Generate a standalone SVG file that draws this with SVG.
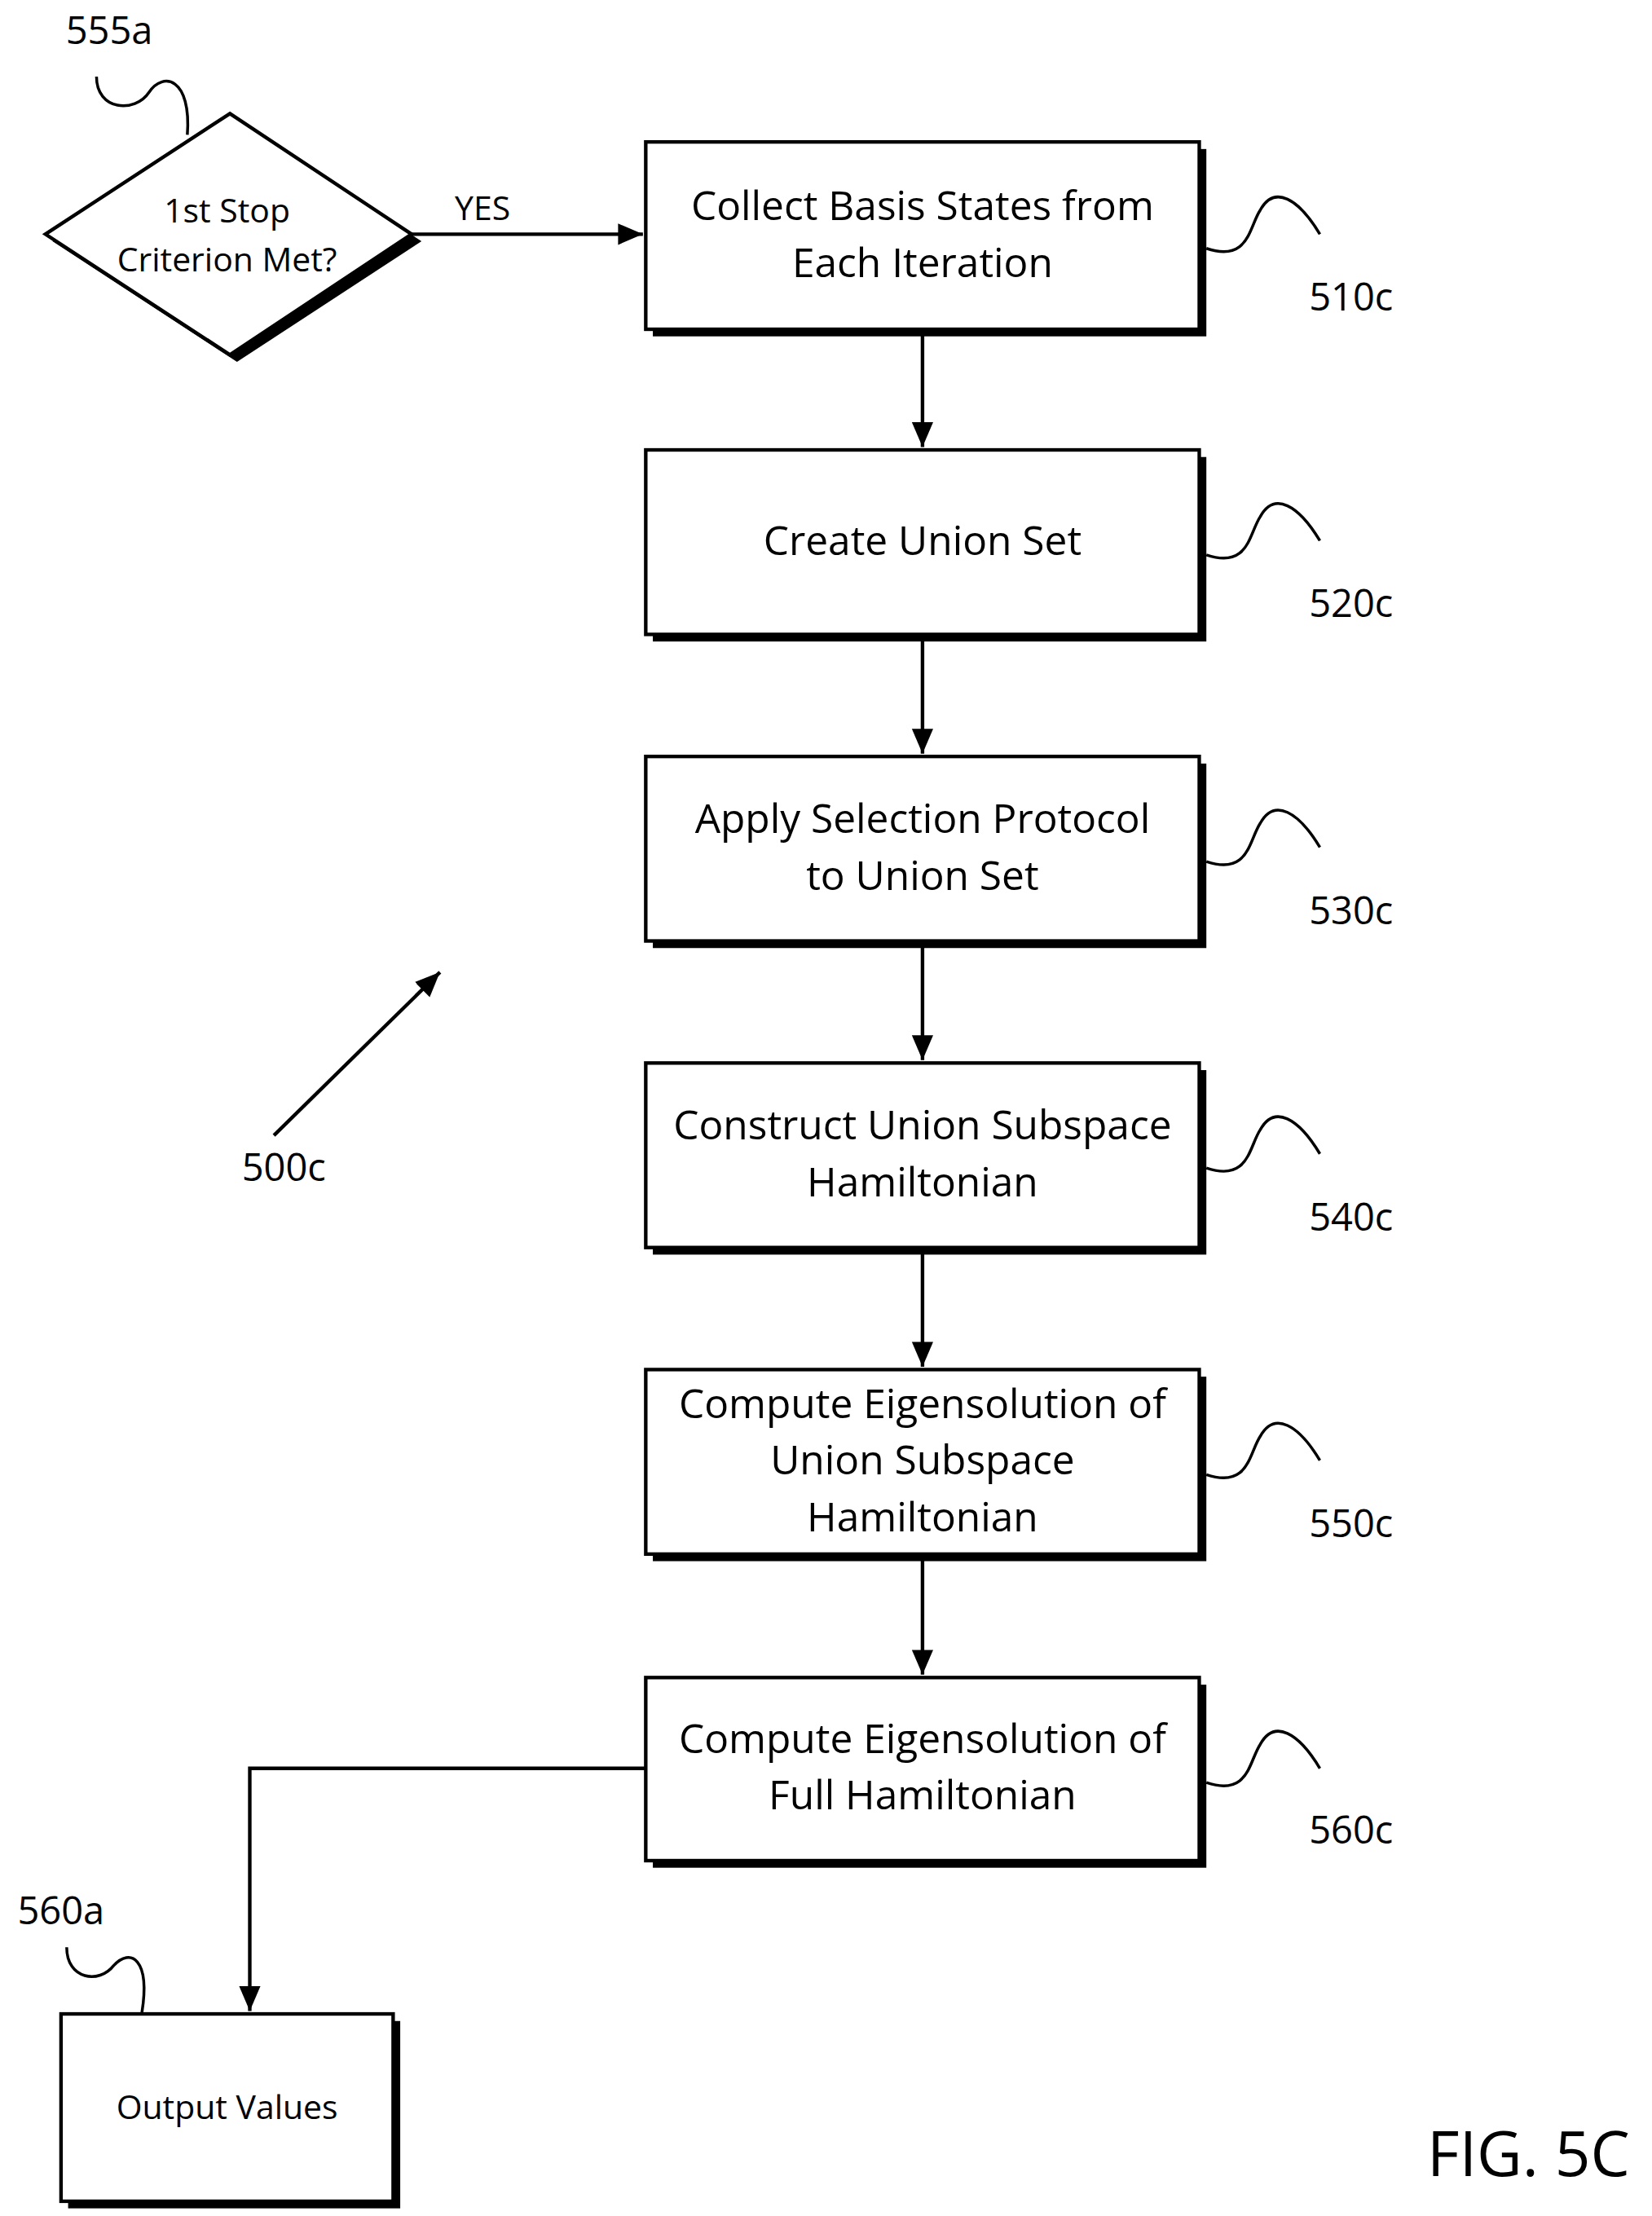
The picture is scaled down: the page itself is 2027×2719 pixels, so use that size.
<svg xmlns="http://www.w3.org/2000/svg" width="2027" height="2719" viewBox="0 0 2027 2719">
<style>
.b{fill:#fff;stroke:#000;stroke-width:2.5}
.s{fill:#000}
.t{font-family:"Open Sans","Liberation Sans",sans-serif;font-size:28.5px;text-anchor:middle;fill:#000}
.st{font-family:"Open Sans","Liberation Sans",sans-serif;font-size:23.5px;text-anchor:middle;fill:#000}
.l{font-family:"Open Sans","Liberation Sans",sans-serif;font-size:27px;text-anchor:middle;fill:#000}
.c{fill:none;stroke:#000;stroke-width:2}
.a{fill:none;stroke:#000;stroke-width:2.5;marker-end:url(#ah)}
</style>
<defs><marker id="ah" markerWidth="8" markerHeight="8" refX="7" refY="4" orient="auto" markerUnits="strokeWidth"><path d="M0,1 L7,4 L0,7 z" fill="#000"/></marker></defs>
<rect width="2027" height="2719" fill="#fff"/>
<g transform="scale(1.7414)">
<g id="n555a">
<polygon class="s" points="167,85 297,170 167,255 37,170"/>
<polygon class="b" points="162,80 290,165 162,250 32,165"/>
<text class="st" x="160" y="157">1st Stop</text>
<text class="st" x="160" y="191">Criterion Met?</text>
<text class="l" x="77" y="31">555a</text>
<path class="c" d="M68,54 C68,78 95,80 105,65 C115,50 135,55 132,95"/>
</g>
<g id="n510c"><rect class="s" x="460" y="105" width="390" height="132"/><rect class="b" x="455" y="100" width="390" height="132"/>
<text class="t" x="650" y="155">Collect Basis States from</text><text class="t" x="650" y="195">Each Iteration</text>
<path class="c" d="M850,175 C880,185 880,160 888,148 C898,130 915,140 930,165"/><text class="l" x="952" y="219">510c</text></g>
<g id="n520c"><rect class="s" x="460" y="322" width="390" height="130"/><rect class="b" x="455" y="317" width="390" height="130"/>
<text class="t" x="650" y="391">Create Union Set</text>
<path class="c" d="M850,391 C880,401 880,376 888,364 C898,346 915,356 930,381"/><text class="l" x="952" y="435">520c</text></g>
<g id="n530c"><rect class="s" x="460" y="538" width="390" height="130"/><rect class="b" x="455" y="533" width="390" height="130"/>
<text class="t" x="650" y="587">Apply Selection Protocol</text><text class="t" x="650" y="627">to Union Set</text>
<path class="c" d="M850,607 C880,617 880,592 888,580 C898,562 915,572 930,597"/><text class="l" x="952" y="651">530c</text></g>
<g id="n540c"><rect class="s" x="460" y="754" width="390" height="130"/><rect class="b" x="455" y="749" width="390" height="130"/>
<text class="t" x="650" y="803">Construct Union Subspace</text><text class="t" x="650" y="843">Hamiltonian</text>
<path class="c" d="M850,823 C880,833 880,808 888,796 C898,778 915,788 930,813"/><text class="l" x="952" y="867">540c</text></g>
<g id="n550c"><rect class="s" x="460" y="970" width="390" height="130"/><rect class="b" x="455" y="965" width="390" height="130"/>
<text class="t" x="650" y="999">Compute Eigensolution of</text><text class="t" x="650" y="1039">Union Subspace</text><text class="t" x="650" y="1079">Hamiltonian</text>
<path class="c" d="M850,1039 C880,1049 880,1024 888,1012 C898,994 915,1004 930,1029"/><text class="l" x="952" y="1083">550c</text></g>
<g id="n560c"><rect class="s" x="460" y="1187" width="390" height="129"/><rect class="b" x="455" y="1182" width="390" height="129"/>
<text class="t" x="650" y="1235">Compute Eigensolution of</text><text class="t" x="650" y="1275">Full Hamiltonian</text>
<path class="c" d="M850,1256 C880,1266 880,1241 888,1229 C898,1211 915,1221 930,1246"/><text class="l" x="952" y="1299">560c</text></g>
<g id="n560a"><rect class="s" x="48" y="1424" width="234" height="132"/><rect class="b" x="43" y="1419" width="234" height="132"/>
<text class="st" x="160" y="1493">Output Values</text>
<text class="l" x="43" y="1356">560a</text>
<path class="c" d="M47,1372 C47,1395 70,1398 80,1385 C92,1372 106,1380 100,1418"/></g>
<g id="n500c"><text class="l" x="200" y="832">500c</text></g>
<text x="1077" y="1533" style="font-family:'Open Sans','Liberation Sans',sans-serif;font-size:44px;text-anchor:middle">FIG. 5C</text>
<g id="connectors">
<path class="a" d="M290,165 L453,165"/>
<text class="st" x="340" y="155">YES</text>
<path class="a" d="M650,232 L650,315"/>
<path class="a" d="M650,447 L650,531"/>
<path class="a" d="M650,663 L650,747"/>
<path class="a" d="M650,879 L650,963"/>
<path class="a" d="M650,1095 L650,1180"/>
<path class="a" d="M455,1246 L176,1246 L176,1417"/>
<path class="a" d="M193,800 L310,685"/>
</g>
</g>
</svg>
